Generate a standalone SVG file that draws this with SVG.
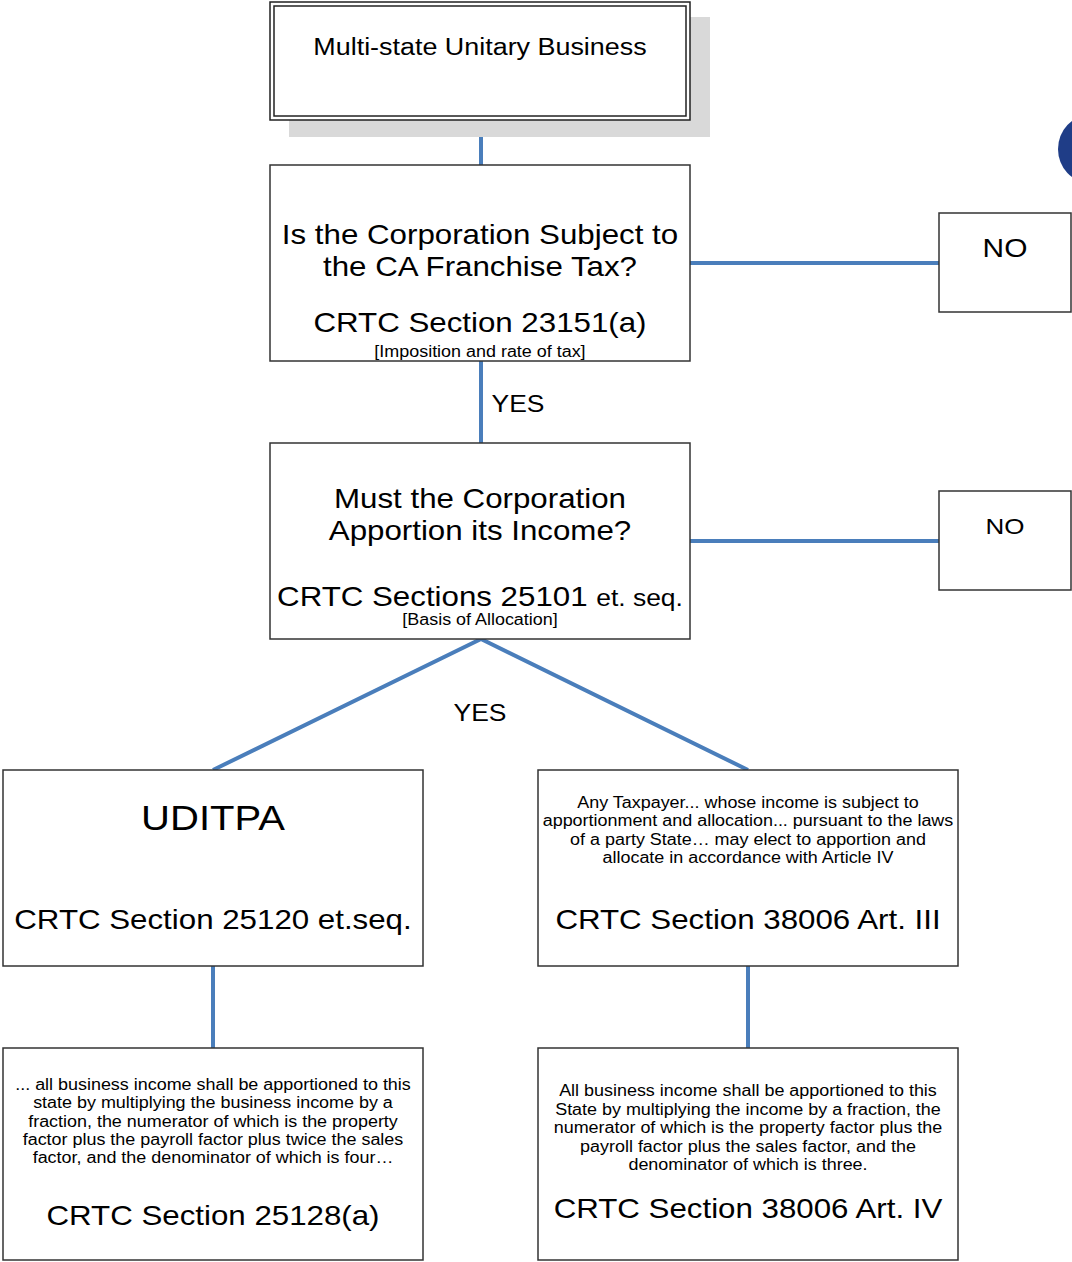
<svg xmlns="http://www.w3.org/2000/svg" width="1072" height="1262" viewBox="0 0 1072 1262">
<style>
.box{fill:#fff;stroke:#333;stroke-width:1.5}
.con{stroke:#4a7ebb;stroke-width:4;fill:none}
text{font-family:"Liberation Sans",Arial,sans-serif;fill:#000;text-anchor:middle}
.big{font-size:27.2px}
.sm{font-size:15.6px}
</style>
<rect width="1072" height="1262" fill="#fff"/>
<g id="connectors">
<line class="con" x1="481" y1="120" x2="481" y2="165"/>
<line class="con" x1="481" y1="361" x2="481" y2="443"/>
<line class="con" x1="690" y1="263" x2="939" y2="263"/>
<line class="con" x1="690" y1="541" x2="939" y2="541"/>
<polyline class="con" points="213,770 481,639 748,770" stroke-linejoin="miter"/>
<line class="con" x1="213" y1="966" x2="213" y2="1048"/>
<line class="con" x1="748" y1="966" x2="748" y2="1048"/>
<g transform="matrix(1.15 0 0 1 -77.7 0)"><text x="518" y="412" style="font-size:23px">YES</text></g>
<g transform="matrix(1.15 0 0 1 -72 0)"><text x="480" y="721" style="font-size:23px">YES</text></g>
</g>
<g id="blob"><rect x="1058" y="115" width="100" height="68" rx="32" ry="34" fill="#1f3d87"/></g>
<g id="start">
<rect x="289" y="17" width="421" height="120" fill="#d9d9d9"/>
<rect x="270" y="2" width="420" height="118" fill="#fff" stroke="#222" stroke-width="1.5"/>
<rect x="274" y="6" width="412" height="110" fill="none" stroke="#222" stroke-width="1.5"/>
<g transform="matrix(1.15 0 0 1 -72 0)"><text x="480" y="55" style="font-size:23.4px">Multi-state Unitary Business</text></g>
</g>
<g id="q1">
<rect class="box" x="270" y="165" width="420" height="196"/>
<g transform="matrix(1.15 0 0 1 -72 0)">
<text class="big" x="480" y="244">Is the Corporation Subject to</text>
<text class="big" x="480" y="276">the CA Franchise Tax?</text>
<text class="big" x="480" y="332">CRTC Section 23151(a)</text>
<text class="sm" x="480" y="357">[Imposition and rate of tax]</text>
</g>
</g>
<g id="no1">
<rect class="box" x="939" y="213" width="132" height="99"/>
<g transform="matrix(1.15 0 0 1 -150.75 0)"><text x="1005" y="257" style="font-size:26px">NO</text></g>
</g>
<g id="q2">
<rect class="box" x="270" y="443" width="420" height="196"/>
<g transform="matrix(1.15 0 0 1 -72 0)">
<text class="big" x="480" y="508">Must the Corporation</text>
<text class="big" x="480" y="540">Apportion its Income?</text>
<text class="big" x="480" y="606">CRTC Sections 25101 <tspan style="font-size:23px">et. seq.</tspan></text>
<text class="sm" x="480" y="625">[Basis of Allocation]</text>
</g>
</g>
<g id="no2">
<rect class="box" x="939" y="491" width="132" height="99"/>
<g transform="matrix(1.15 0 0 1 -150.75 0)"><text x="1005" y="534" style="font-size:22.6px">NO</text></g>
</g>
<g id="uditpa">
<rect class="box" x="3" y="770" width="420" height="196"/>
<g transform="matrix(1.15 0 0 1 -31.95 0)">
<text x="213" y="830" style="font-size:34.8px">UDITPA</text>
<text class="big" x="213" y="929">CRTC Section 25120 et.seq.</text>
</g>
</g>
<g id="art3">
<rect class="box" x="538" y="770" width="420" height="196"/>
<g transform="matrix(1.15 0 0 1 -112.2 0)">
<text class="sm" x="748" y="808">Any Taxpayer... whose income is subject to</text>
<text class="sm" x="748" y="826">apportionment and allocation... pursuant to the laws</text>
<text class="sm" x="748" y="845">of a party State… may elect to apportion and</text>
<text class="sm" x="748" y="863">allocate in accordance with Article IV</text>
<text class="big" x="748" y="929">CRTC Section 38006 Art. III</text>
</g>
</g>
<g id="s25128">
<rect class="box" x="3" y="1048" width="420" height="212"/>
<g transform="matrix(1.15 0 0 1 -31.95 0)">
<text class="sm" x="213" y="1090">... all business income shall be apportioned to this</text>
<text class="sm" x="213" y="1108">state by multiplying the business income by a</text>
<text class="sm" x="213" y="1127">fraction, the numerator of which is the property</text>
<text class="sm" x="213" y="1145">factor plus the payroll factor plus twice the sales</text>
<text class="sm" x="213" y="1163">factor, and the denominator of which is four…</text>
<text class="big" x="213" y="1225">CRTC Section 25128(a)</text>
</g>
</g>
<g id="art4">
<rect class="box" x="538" y="1048" width="420" height="212"/>
<g transform="matrix(1.15 0 0 1 -112.2 0)">
<text class="sm" x="748" y="1096">All business income shall be apportioned to this</text>
<text class="sm" x="748" y="1115">State by multiplying the income by a fraction, the</text>
<text class="sm" x="748" y="1133">numerator of which is the property factor plus the</text>
<text class="sm" x="748" y="1152">payroll factor plus the sales factor, and the</text>
<text class="sm" x="748" y="1170">denominator of which is three.</text>
<text class="big" x="748" y="1218">CRTC Section 38006 Art. IV</text>
</g>
</g>
</svg>
